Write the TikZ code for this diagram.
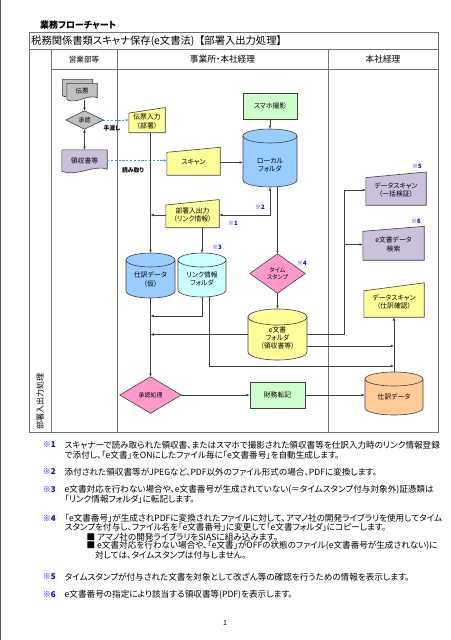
\documentclass[tikz,border=0pt]{standalone}
\usepackage{fontspec}
\setmainfont{Noto Sans CJK JP}[RawFeature=+palt]
\usetikzlibrary{arrows.meta,backgrounds}
\definecolor{linec}{RGB}{64,64,64}
\definecolor{gridc}{RGB}{115,115,115}
\definecolor{cyel}{RGB}{255,255,153}
\definecolor{cgreen}{RGB}{204,255,204}
\definecolor{cblue}{RGB}{153,204,255}
\definecolor{ccyan}{RGB}{204,255,255}
\definecolor{corange}{RGB}{255,204,153}
\definecolor{cpurple}{RGB}{204,193,218}
\definecolor{cpink}{RGB}{255,153,204}
\definecolor{cgray}{RGB}{192,192,192}
\definecolor{dblue}{RGB}{51,153,255}
\definecolor{mblue}{RGB}{0,0,255}
\tikzset{
  tablegrid/.style={draw=gridc, line width=0.8pt},
  shapeline/.style={draw=linec, line width=0.6pt},
  shapebox/.style={inner sep=0pt, align=center, font=\fontsize{6.8}{8.3}\selectfont},
  diatext/.style={inner sep=0pt, align=center, font=\fontsize{6}{7.3}\selectfont},
  conn/.style={draw=linec, line width=0.7pt},
  arr/.style={conn, -{Latex[length=3.3pt,width=2.8pt]}},
  arrboth/.style={conn, {Latex[length=3.3pt,width=2.8pt]}-{Latex[length=3.3pt,width=2.8pt]}},
  darr/.style={draw=dblue, line width=0.9pt, dash pattern=on 2.2pt off 1.6pt, -{Latex[length=3.3pt,width=2.8pt]}},
  refmark/.style={text=mblue, font=\bfseries\fontsize{6}{7}\selectfont, inner sep=0pt},
  flowlabel/.style={font=\bfseries\fontsize{5.8}{7}\selectfont, inner sep=0pt},
  notetext/.style={anchor=west, inner sep=0pt, font=\fontsize{8.6}{10}\selectfont},
  notemark/.style={anchor=west, inner sep=0pt, text=mblue, font=\bfseries\fontsize{8}{10}\selectfont},
  colhead/.style={inner sep=0pt, font=\fontsize{8.7}{10}\selectfont},
}
% manual input: name cx cy w h halfslant fill text
\newcommand\miShape[8]{%
  \node[shapebox, minimum width=#4pt, minimum height=#5pt] (#1) at (#2,#3) {#8};
  \begin{scope}[on background layer]
    \path[shapeline, fill=#7] (#1.south west) -- ([yshift=-#6pt]#1.north west)
      -- ([yshift=#6pt]#1.north east) -- (#1.south east) -- cycle;
  \end{scope}}
% document: name cx cy w h fill text
\newcommand\docShape[7]{%
  \node[shapebox, minimum width=#4pt, minimum height=#5pt] (#1) at (#2,#3) {#7};
  \begin{scope}[on background layer]
    \path[shapeline, fill=#6] (#1.north west) -- (#1.north east) -- ([yshift=2pt]#1.south east)
      .. controls ([xshift=-12pt,yshift=7pt]#1.south east) and ([xshift=14pt,yshift=-6pt]#1.south west) ..
      (#1.south west) -- cycle;
  \end{scope}}
% diamond: name cx cy w h fill text
\newcommand\diaShape[7]{%
  \node[diatext, minimum width=#4pt, minimum height=#5pt] (#1) at (#2,#3) {#7};
  \begin{scope}[on background layer]
    \path[shapeline, fill=#6] (#1.north) -- (#1.east) -- (#1.south) -- (#1.west) -- cycle;
  \end{scope}}
% cylinder: name cx top bottom rx ry fill texty text
\newcommand\cylShape[9]{%
  \pgfmathsetmacro\cylW{2*#5}%
  \pgfmathsetmacro\cylH{#4-#3}%
  \pgfmathsetmacro\cylY{(#3+#4)/2}%
  \node[inner sep=0pt, minimum width=\cylW pt, minimum height=\cylH pt] (#1) at (#2,\cylY) {};
  \node[shapebox] (#1-t) at (#2,#8) {#9};
  \begin{scope}[on background layer]
    \path[shapeline, fill=#7] (#2-#5,#3+#6) -- (#2-#5,#4-#6)
      arc[start angle=180,end angle=360,x radius=#5pt,y radius=#6pt]
      -- (#2+#5,#3+#6)
      arc[start angle=0,end angle=180,x radius=#5pt,y radius=#6pt] -- cycle;
    \draw[shapeline] (#2-#5,#3+#6) arc[start angle=180,end angle=360,x radius=#5pt,y radius=#6pt];
  \end{scope}}
\begin{document}
\begin{tikzpicture}[x=1pt, y=-1pt]
\useasboundingbox (0,0) rectangle (450,640);
\begin{scope}[on background layer]
  \fill[white] (0,0) rectangle (450,640);
\end{scope}
\draw[line width=1.2pt, draw=black!65] (0.6,0) -- (0.6,640);

% table
\draw[tablegrid] (29,32) rectangle (438,432);
\draw[tablegrid] (29,49) -- (438,49);
\draw[tablegrid] (51,69) -- (438,69);
\draw[tablegrid] (51,49) -- (51,432);
\draw[tablegrid] (117.5,49) -- (117.5,432);
\draw[tablegrid] (328,49) -- (328,432);

\node[anchor=west, inner sep=0pt, font=\bfseries\fontsize{9}{10}\selectfont] (title) at (40,25) {業務フローチャート};
\node[anchor=west, inner sep=0pt, font=\fontsize{10.3}{12}\selectfont] (head) at (31,41) {税務関係書類スキャナ保存(e文書法)\hspace{5pt}【部署入出力処理】};
\node[colhead, font=\fontsize{7.6}{9}\selectfont] (c1) at (84,59.5) {営業部等};
\node[colhead] (c2) at (222.5,59.5) {事業所・本社経理};
\node[colhead] (c3) at (383,59.5) {本社経理};
\node[rotate=90, inner sep=0pt, font=\fontsize{8}{9}\selectfont] (vl) at (40,401) {部署入出力処理};

% 伝票 (multi document)
\node[shapebox, font=\fontsize{6.5}{8}\selectfont, minimum width=30pt, minimum height=16pt] (dp) at (82,91.5) {伝票};
\begin{scope}[on background layer]
  \path[shapeline, fill=cgray] ([xshift=-4.5pt,yshift=4pt]dp.north west) -- ([xshift=-4.5pt,yshift=4pt]dp.north east)
    -- ([xshift=-4.5pt,yshift=6pt]dp.south east)
    .. controls ([xshift=-13.5pt,yshift=10pt]dp.south east) and ([xshift=4.5pt,yshift=-1pt]dp.south west) ..
    ([xshift=-4.5pt,yshift=4pt]dp.south west) -- cycle;
  \path[shapeline, fill=cgray] (dp.north west) -- (dp.north east) -- ([yshift=2pt]dp.south east)
    .. controls ([xshift=-9pt,yshift=6pt]dp.south east) and ([xshift=9pt,yshift=-5pt]dp.south west) ..
    (dp.south west) -- cycle;
\end{scope}

\diaShape{sy}{84.5}{120}{37}{18}{cgray}{承認}
\docShape{ry}{84.5}{160.5}{45}{21}{cpurple}{領収書等}

\miShape{dny}{147}{121.5}{36}{22}{2.8}{cyel}{伝票入力\\（部署）}
\miShape{scan}{193.5}{162.5}{53}{25}{2.5}{cyel}{スキャン}
\miShape{bu}{192.5}{215}{53}{25}{2.7}{cyel}{部署入出力\\（リンク情報）}

\node[shapebox, shapeline, fill=cgreen, minimum width=54pt, minimum height=26pt] (sp) at (270,106) {スマホ撮影};
\cylShape{loc}{270}{129}{187}{27}{7}{cblue}{165}{ローカル\\フォルダ}
\cylShape{sk}{150.5}{253}{298}{24.5}{7}{cblue}{279.5}{仕訳データ\\（仮）}
\cylShape{lk}{202}{253}{297}{24}{7}{ccyan}{279}{リンク情報\\フォルダ}
\diaShape{ts}{277.5}{273.5}{55}{39}{cpink}{タイム\\スタンプ}
\cylShape{ef}{277.5}{309}{360}{29.5}{8}{cyel}{338}{e文書\\フォルダ\\（領収書等）}
\diaShape{sys}{150.5}{395}{61}{36}{cpink}{承認処理}
\node[shapebox, shapeline, fill=cgreen, minimum width=55pt, minimum height=26pt] (zt) at (277.5,395) {財務転記};

\miShape{ds1}{396}{190}{60}{30}{2.8}{cpurple}{データスキャン\\（一括検証）}
\miShape{eds}{393.5}{244.5}{61}{31}{2.5}{cpurple}{e文書データ\\検索}
\miShape{ds2}{394}{302}{60}{30}{4}{cyel}{データスキャン\\（仕訳確認）}
\cylShape{sd}{394}{372}{415}{29}{7}{corange}{397}{仕訳データ}

% reference marks
\node[refmark] (m1) at (233,223) {※1};
\node[refmark] (m2) at (260,207) {※2};
\node[refmark] (m3) at (217,247.5) {※3};
\node[refmark] (m4) at (302,263) {※4};
\node[refmark] (m5) at (417,166.5) {※5};
\node[refmark] (m6) at (416,221) {※6};
\node[flowlabel] (l1) at (112,128) {手渡し};
\node[flowlabel] (l2) at (133,170.5) {読み取り};

% connectors
\draw[arr] (sy.north |- dp.south) -- (sy.north);
\draw[arrboth] (sy.south) -- (ry.north);
\draw[darr] (sy.east) -- (sy.east -| dny.west);
\draw[darr] (ry.east) -- (ry.east -| scan.west);
\draw[arr] (scan.east) -- (scan.east -| loc.west);
\draw[arr] (sp.south) -- (loc.north);
\draw[arr] (sk.north |- dny.south) -- (sk.north);
\draw[arr] (bu.west) -- (bu.west -| sk.north);
\draw[arrboth] (loc.south) |- (bu.east);
\draw[arr] (lk.north |- bu.south) -- (lk.north);
\draw[arr] (ts.north |- loc.south) -- (ts.north);
\draw[arr] (ts.south) -- (ef.north);
\coordinate (j1) at (150.5,316);
\draw[arr] (lk.south) |- (j1);
\draw[arr] (sk.south) -- (sys.north);
\coordinate (j2) at (150.5,334.5);
\draw[arr] (ef.west) -- (j2);
\coordinate (bus) at (344,334.5);
\draw[conn] (ef.east) -- (bus);
\draw[arr] (bus) |- (ds1.west);
\draw[arr] (bus |- eds.west) -- (eds.west);
\coordinate (j4) at (394,346);
\draw[arr] (j4 -| ef.east) -- (j4);
\coordinate (j5) at (394,366);
\draw[arr] ([xshift=7pt]lk.south) |- (j5);
\draw[arr] (sd.north) -- (ds2.south);
\draw[arr] (sys.east) -- (zt.west);
\draw[arr] (zt.east) -- (zt.east -| sd.west);

% notes
\node[notemark] (n1m) at (42.7,445) {※1};
\node[notetext] (n1a) at (64.5,445) {スキャナーで読み取られた領収書、またはスマホで撮影された領収書等を仕訳入力時のリンク情報登録};
\node[notetext] (n1b) at (64.5,455) {で添付し、「e文書」をONにしたファイル毎に「e文書番号」を自動生成します。};
\node[notemark] (n2m) at (42.7,472) {※2};
\node[notetext] (n2a) at (64.5,472) {添付された領収書等がJPEGなど、PDF以外のファイル形式の場合、PDFに変換します。};
\node[notemark] (n3m) at (42.7,490) {※3};
\node[notetext] (n3a) at (64.5,490) {e文書対応を行わない場合や、e文書番号が生成されていない(＝タイムスタンプ付与対象外)証憑類は};
\node[notetext] (n3b) at (64.5,499.3) {「リンク情報フォルダ」に転記します。};
\node[notemark] (n4m) at (42.7,518.3) {※4};
\node[notetext] (n4a) at (64.5,518.3) {「e文書番号」が生成されPDFに変換されたファイルに対して、アマノ社の開発ライブラリを使用してタイム};
\node[notetext] (n4b) at (64.5,527.6) {スタンプを付与し、ファイル名を「e文書番号」に変更して「e文書フォルダ」にコピーします。};
\node[notetext] (n4c) at (86.5,536.8) {■ アマノ社の開発ライブラリをSIASに組み込みます。};
\node[notetext] (n4d) at (86.5,546) {■ e文書対応を行わない場合や、「e文書」がOFFの状態のファイル(e文書番号が生成されない)に};
\node[notetext] (n4e) at (95,555.2) {対しては、タイムスタンプは付与しません。};
\node[notemark] (n5m) at (42.7,577) {※5};
\node[notetext] (n5a) at (64.5,577) {タイムスタンプが付与された文書を対象として改ざん等の確認を行うための情報を表示します。};
\node[notemark] (n6m) at (42.7,595) {※6};
\node[notetext] (n6a) at (64.5,595) {e文書番号の指定により該当する領収書等(PDF)を表示します。};
\node[inner sep=0pt, font=\fontsize{7}{8}\selectfont] (pg) at (225,622.5) {1};
\end{tikzpicture}
\end{document}
